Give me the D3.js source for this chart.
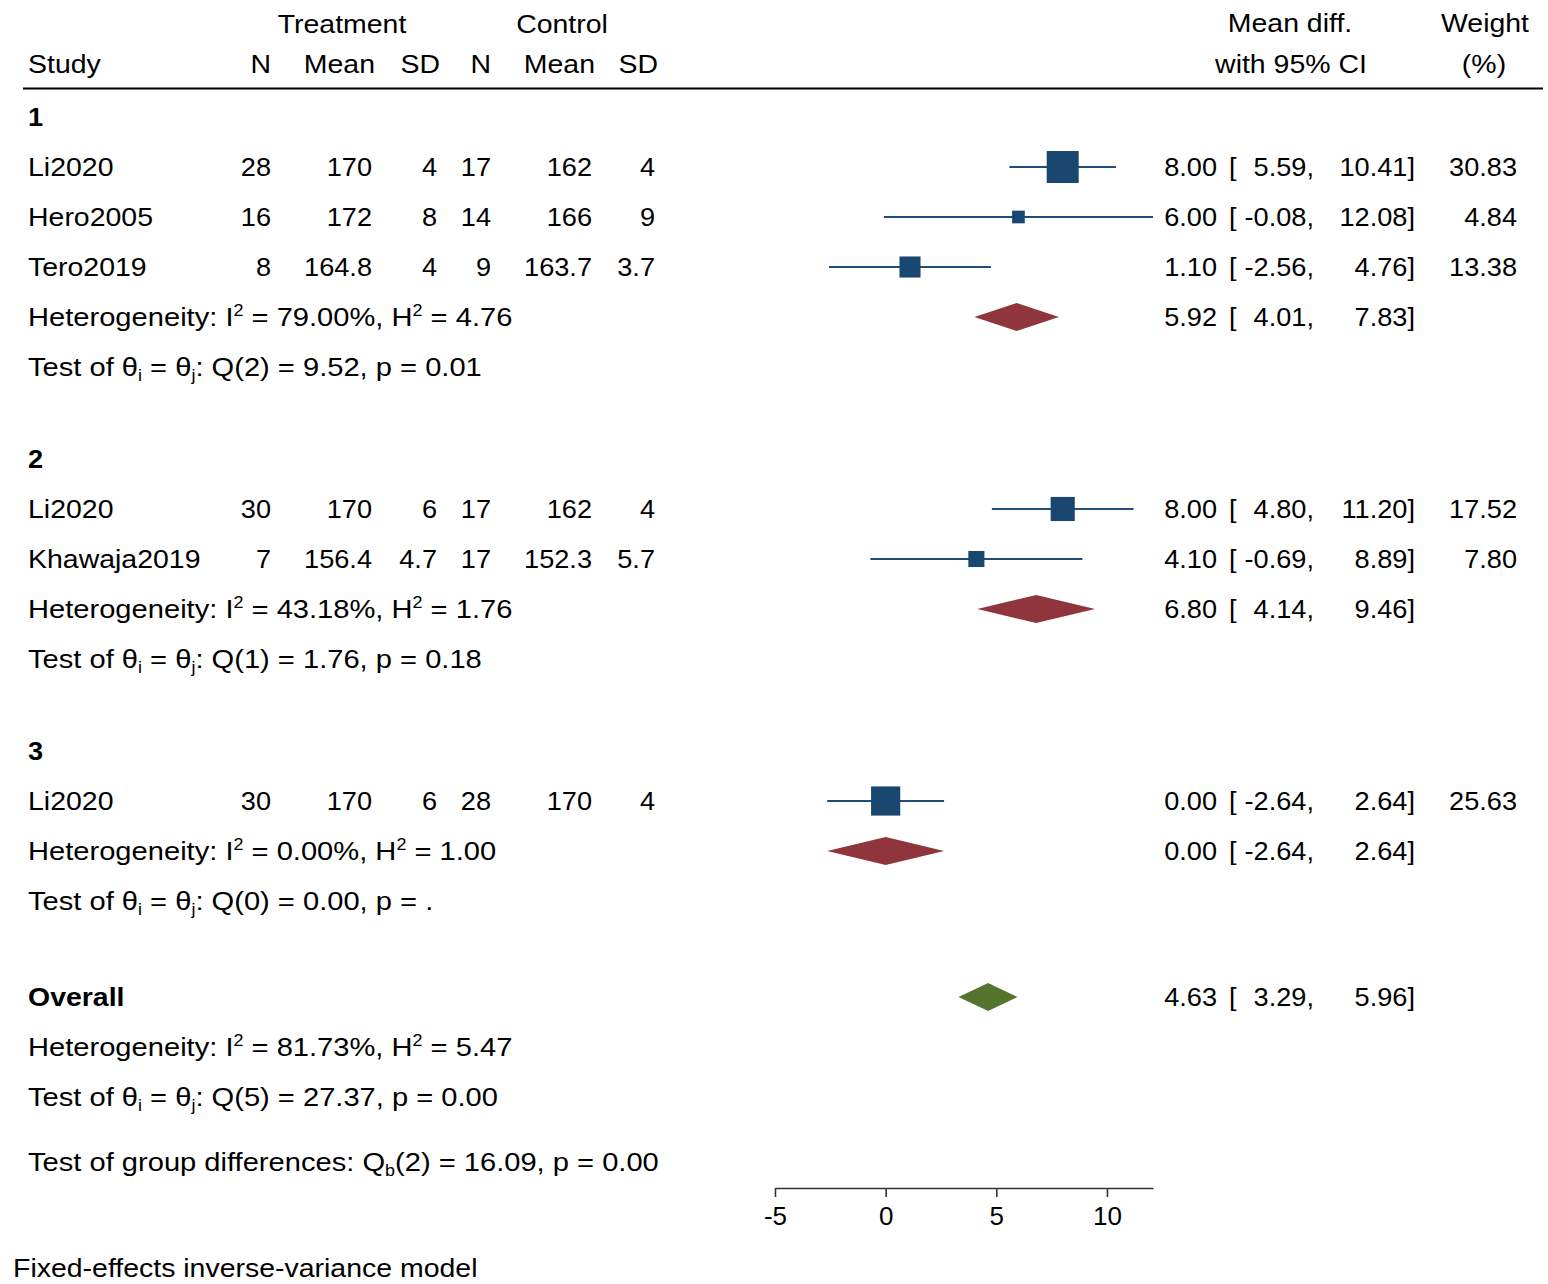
<!DOCTYPE html>
<html>
<head>
<meta charset="utf-8">
<script src="https://cdn.jsdelivr.net/npm/d3@7"></script>
<style>
  body { margin: 0; background: #fff; }
  text { font-family: "Liberation Sans", Arial, sans-serif; font-size: 26px; fill: #000; }
</style>
</head>
<body>
<svg id="chart"></svg>
<script>
// Study-level data
const studies = ["Li2020", "Hero2005", "Tero2019", "Li2020", "Khawaja2019", "Li2020"];
const studyGroup = ["1", "1", "1", "2", "2", "3"];
const trtN = [28, 16, 8, 30, 7, 30];
const trtMean = [170, 172, 164.8, 170, 156.4, 170];
const trtSD = [4, 8, 4, 6, 4.7, 6];
const ctlN = [17, 14, 9, 17, 17, 28];
const ctlMean = [162, 166, 163.7, 162, 152.3, 170];
const ctlSD = [4, 9, 3.7, 4, 5.7, 4];
const effect = [8.00, 6.00, 1.10, 8.00, 4.10, 0.00];
const lower = [5.59, -0.08, -2.56, 4.80, -0.69, -2.64];
const upper = [10.41, 12.08, 4.76, 11.20, 8.89, 2.64];
const weight = [30.83, 4.84, 13.38, 17.52, 7.80, 25.63];

// Subgroup summaries
const groups = ["1", "2", "3"];
const groupEffect = [5.92, 6.80, 0.00];
const groupLower = [4.01, 4.14, -2.64];
const groupUpper = [7.83, 9.46, 2.64];
const groupI2 = ["79.00", "43.18", "0.00"];
const groupH2 = ["4.76", "1.76", "1.00"];
const groupQdf = [2, 1, 0];
const groupQ = ["9.52", "1.76", "0.00"];
const groupP = ["0.01", "0.18", "."];

// Overall
const overallEffect = 4.63, overallLower = 3.29, overallUpper = 5.96;
const overallI2 = "81.73", overallH2 = "5.47";
const overallQdf = 5, overallQ = "27.37", overallP = "0.00";
const betweenQdf = 2, betweenQ = "16.09", betweenP = "0.00";

const xTicks = [-5, 0, 5, 10];

const width = 1548, height = 1284;
const colors = { marker: "#1a476f", ci: "#1f4e7d", group: "#90353b", overall: "#55752f" };
const fmt = (v) => v.toFixed(2);
// the reference glyphs run a little wider than the installed font
const stretchWords = 1.095, stretchNums = 1.045, stretchRich = 1.12;

const svg = d3.select("#chart").attr("width", width).attr("height", height);
svg.append("rect").attr("width", width).attr("height", height).attr("fill", "#fff");

// x scale for the plot column
const x = d3.scaleLinear()
  .domain([-5, d3.max(upper)])
  .range([775, 1153]);

const size = d3.scaleSqrt()
  .domain([0, d3.max(weight)])
  .range([0, 32]);

// column right edges for the table
const cols = [271, 372, 437, 491, 592, 655];
const estX = 1217, bracketX = 1229, lowX = 1314, upX = 1415, wX = 1517;
const base = 9; // text baseline below row centre

// build row layout
const rows = [];
let y = 117;
groups.forEach((g, gi) => {
  rows.push({ type: "group", y, label: g });
  y += 50;
  studies.forEach((s, i) => {
    if (studyGroup[i] === g) { rows.push({ type: "study", y, i }); y += 50; }
  });
  rows.push({ type: "het", y, i2: groupI2[gi], h2: groupH2[gi], gi });
  y += 50;
  rows.push({ type: "test", y, df: groupQdf[gi], q: groupQ[gi], p: groupP[gi] });
  y += 92;
});
y += 4;
rows.push({ type: "overall", y });
y += 50;
rows.push({ type: "het", y, i2: overallI2, h2: overallH2 });
y += 50;
rows.push({ type: "test", y, df: overallQdf, q: overallQ, p: overallP });
y += 65;
rows.push({ type: "between", y });
const axisY = y + 26;

function placed(xx, yy, sx) {
  return svg.append("text")
    .attr("transform", `translate(${xx},${yy}) scale(${sx},1)`);
}

function label(txt, xx, yy, anchor, bold) {
  const sx = /^[\d.\-,\[\]\s]+$/.test(txt) ? stretchNums : stretchWords;
  return placed(xx, yy, sx)
    .attr("text-anchor", anchor || "start")
    .style("font-weight", bold ? "bold" : null)
    .text(txt);
}

// header
label("Treatment", 342, 33, "middle");
label("Control", 562, 33, "middle");
label("Study", 28, 73);
["N", "Mean", "SD", "N", "Mean", "SD"].forEach((h, k) => label(h, cols[k] + (k % 3 === 0 ? 0 : 3), 73, "end"));
label("Mean diff.", 1290, 32, "middle");
label("with 95% CI", 1291, 73, "middle");
label("Weight", 1485, 32, "middle");
label("(%)", 1484, 73, "middle");

svg.append("line")
  .attr("x1", 23).attr("x2", 1543).attr("y1", 88.5).attr("y2", 88.5)
  .attr("stroke", "#000").attr("stroke-width", 2);

// rich text helper: parts of [text, "sup"|"sub"|null]
function rich(parts, xx, yy) {
  const t = placed(xx, yy, stretchRich);
  let shift = 0;
  parts.forEach(([s, kind]) => {
    const target = kind === "sup" ? -10 : kind === "sub" ? 5 : 0;
    t.append("tspan")
      .attr("dy", target - shift)
      .style("font-size", kind ? "16px" : null)
      .text(s);
    shift = target;
  });
  return t;
}

function ciText(e, lo, hi, yy, w) {
  label(fmt(e), estX, yy, "end");
  label("[", bracketX, yy);
  label(fmt(lo) + ",", lowX, yy, "end");
  label(fmt(hi) + "]", upX, yy, "end");
  if (w !== undefined) label(fmt(w), wX, yy, "end");
}

function diamond(lo, e, hi, cy, color) {
  svg.append("path")
    .attr("d", d3.line()([[x(lo), cy], [x(e), cy - 14], [x(hi), cy], [x(e), cy + 14]]) + "Z")
    .attr("fill", color);
}

rows.forEach((r) => {
  const by = r.y + base;
  if (r.type === "group") {
    label(r.label, 28, by, "start", true);
  } else if (r.type === "study") {
    const i = r.i;
    label(studies[i], 28, by);
    [trtN[i], trtMean[i], trtSD[i], ctlN[i], ctlMean[i], ctlSD[i]]
      .forEach((v, k) => label(String(v), cols[k], by, "end"));
    svg.append("line")
      .attr("x1", x(lower[i])).attr("x2", x(upper[i]))
      .attr("y1", r.y).attr("y2", r.y)
      .attr("stroke", colors.ci).attr("stroke-width", 2);
    const s = size(weight[i]);
    svg.append("rect")
      .attr("x", x(effect[i]) - s / 2).attr("y", r.y - s / 2)
      .attr("width", s).attr("height", s)
      .attr("fill", colors.marker);
    ciText(effect[i], lower[i], upper[i], by, weight[i]);
  } else if (r.type === "het") {
    rich([["Heterogeneity: I"], ["2", "sup"], [" = " + r.i2 + "%, H"], ["2", "sup"], [" = " + r.h2]], 28, by);
    if (r.gi !== undefined) {
      diamond(groupLower[r.gi], groupEffect[r.gi], groupUpper[r.gi], r.y, colors.group);
      ciText(groupEffect[r.gi], groupLower[r.gi], groupUpper[r.gi], by);
    }
  } else if (r.type === "test") {
    rich([["Test of θ"], ["i", "sub"], [" = θ"], ["j", "sub"], [": Q(" + r.df + ") = " + r.q + ", p = " + r.p]], 28, by);
  } else if (r.type === "overall") {
    label("Overall", 28, by, "start", true);
    diamond(overallLower, overallEffect, overallUpper, r.y, colors.overall);
    ciText(overallEffect, overallLower, overallUpper, by);
  } else if (r.type === "between") {
    rich([["Test of group differences: Q"], ["b", "sub"], ["(" + betweenQdf + ") = " + betweenQ + ", p = " + betweenP]], 28, by);
  }
});

// x axis
const axis = svg.append("g")
  .attr("transform", `translate(0, ${axisY})`)
  .call(d3.axisBottom(x).tickValues(xTicks).tickFormat((d) => String(d))
    .tickSize(9).tickSizeOuter(0).tickPadding(10));
axis.select(".domain").attr("stroke", "#333").attr("stroke-width", 1.6);
axis.selectAll(".tick line").attr("stroke", "#333").attr("stroke-width", 1.6);
axis.selectAll(".tick text")
  .style("font-family", "'Liberation Sans', Arial, sans-serif")
  .style("font-size", "26px").attr("fill", "#000");

label("Fixed-effects inverse-variance model", 13, 1277);
</script>
</body>
</html>
